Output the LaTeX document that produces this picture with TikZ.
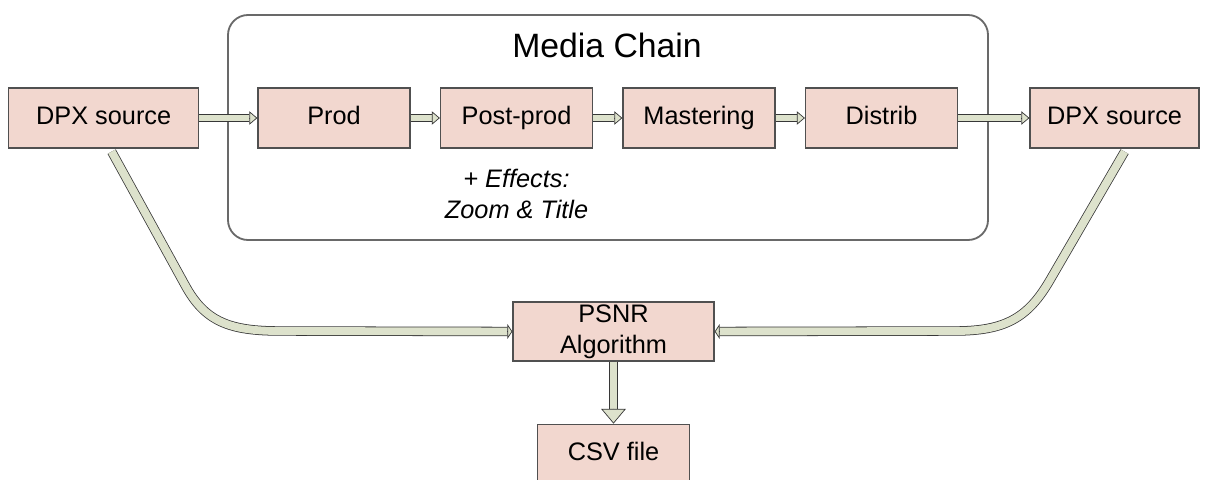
\documentclass[tikz,border=0pt]{standalone}
\usepackage{fontspec}
\setmainfont{Liberation Sans}
\usepackage{xcolor}
\definecolor{boxfill}{RGB}{242,215,207}
\definecolor{boxline}{RGB}{80,80,80}
\definecolor{pipefill}{RGB}{221,226,204}
\definecolor{pipeedge}{RGB}{55,55,55}
\definecolor{chainline}{RGB}{105,105,105}
\usepackage{tikz}
\usetikzlibrary{arrows.meta, positioning, calc}

\begin{document}
\begin{tikzpicture}[
  x=0.025cm, y=-0.025cm,
  stage/.style={rectangle, draw=boxline, line width=0.9pt, fill=boxfill,
                minimum width=3.8cm, minimum height=1.5cm, inner sep=0pt,
                font=\fontsize{18}{22}\selectfont, align=center},
  onestage/.style={stage, text height=13pt, text depth=4pt},
  pipe/.style={draw=pipeedge, line width=0.5pt, double=pipefill, double distance=4.2pt},
  widepipe/.style={draw=pipeedge, line width=0.55pt, double=pipefill, double distance=5.6pt},
  pipetip/.style={-{Triangle[length=5.7pt, width=9.5pt, fill=pipefill]}, draw=pipeedge, line width=0.5pt},
  sidetip/.style={-{Triangle[length=3.5pt, width=10.5pt, fill=pipefill]}, draw=pipeedge, line width=0.5pt},
  downtip/.style={-{Triangle[length=10.5pt, width=17.5pt, fill=pipefill]}, draw=pipeedge, line width=0.5pt},
  note/.style={font=\fontsize{18}{21.5}\selectfont\itshape, align=center}
]
  \useasboundingbox (0,0) rectangle (1207,479);

  % Media chain frame
  \draw[chainline, line width=1.3pt, rounded corners=0.5cm] (228,15) rectangle (988,240);
  \node[font=\fontsize{24}{29}\selectfont] (title) at (607,45) {Media Chain};

  % Chain stages
  \node[onestage] (prod) at (334,118) {Prod};
  \node[onestage, right=0.73cm of prod] (post) {Post-prod};
  \node[onestage, right=0.73cm of post] (mast) {Mastering};
  \node[onestage, right=0.73cm of mast] (distrib) {Distrib};
  \node[note, below=0.4cm of post] (effects) {+ Effects:\\Zoom \& Title};

  % Source in / out
  \node[onestage, minimum width=4.75cm, left=1.45cm of prod] (dpxin) {DPX source};
  \node[onestage, minimum width=4.225cm, right=1.78cm of distrib] (dpxout) {DPX source};

  % Comparison and result
  \node[stage, minimum width=5.025cm, minimum height=1.475cm] (psnr) at (613.5,331.5) {PSNR\\Algorithm};
  \node[onestage, below=1.55cm of psnr] (csv) {CSV file};

  % Arrows along the chain
  \draw[pipe, shorten >=5.7pt] (dpxin) -- (prod);
  \draw[pipetip] ($(prod.west)+(-8,0)$) -- (prod.west);
  \draw[pipe, shorten >=5.7pt] (prod) -- (post);
  \draw[pipetip] ($(post.west)+(-8,0)$) -- (post.west);
  \draw[pipe, shorten >=5.7pt] (post) -- (mast);
  \draw[pipetip] ($(mast.west)+(-8,0)$) -- (mast.west);
  \draw[pipe, shorten >=5.7pt] (mast) -- (distrib);
  \draw[pipetip] ($(distrib.west)+(-8,0)$) -- (distrib.west);
  \draw[pipe, shorten >=5.7pt] (distrib) -- (dpxout);
  \draw[pipetip] ($(dpxout.west)+(-8,0)$) -- (dpxout.west);

  % Both sources go to the PSNR step
  \coordinate (refout) at ($(dpxin.south)+(8,3)$);
  \coordinate (testout) at ($(dpxout.south)+(10,3)$);
  \draw[widepipe, shorten >=3.5pt] (refout) -- (185,285)
    .. controls (205,322) and (230,331) .. (280,331) -- (psnr.west);
  \draw[sidetip] ($(psnr.west)+(-5,0)$) -- (psnr.west);
  \draw[widepipe, shorten >=3.5pt] (testout) -- (1050,280)
    .. controls (1028,318) and (1005,331) .. (955,331) -- (psnr.east);
  \draw[sidetip] ($(psnr.east)+(5,0)$) -- (psnr.east);

  % Output file
  \draw[widepipe, shorten >=10.5pt] (psnr) -- (csv);
  \draw[downtip] ($(csv.north)+(0,-15)$) -- (csv.north);
\end{tikzpicture}
\end{document}
